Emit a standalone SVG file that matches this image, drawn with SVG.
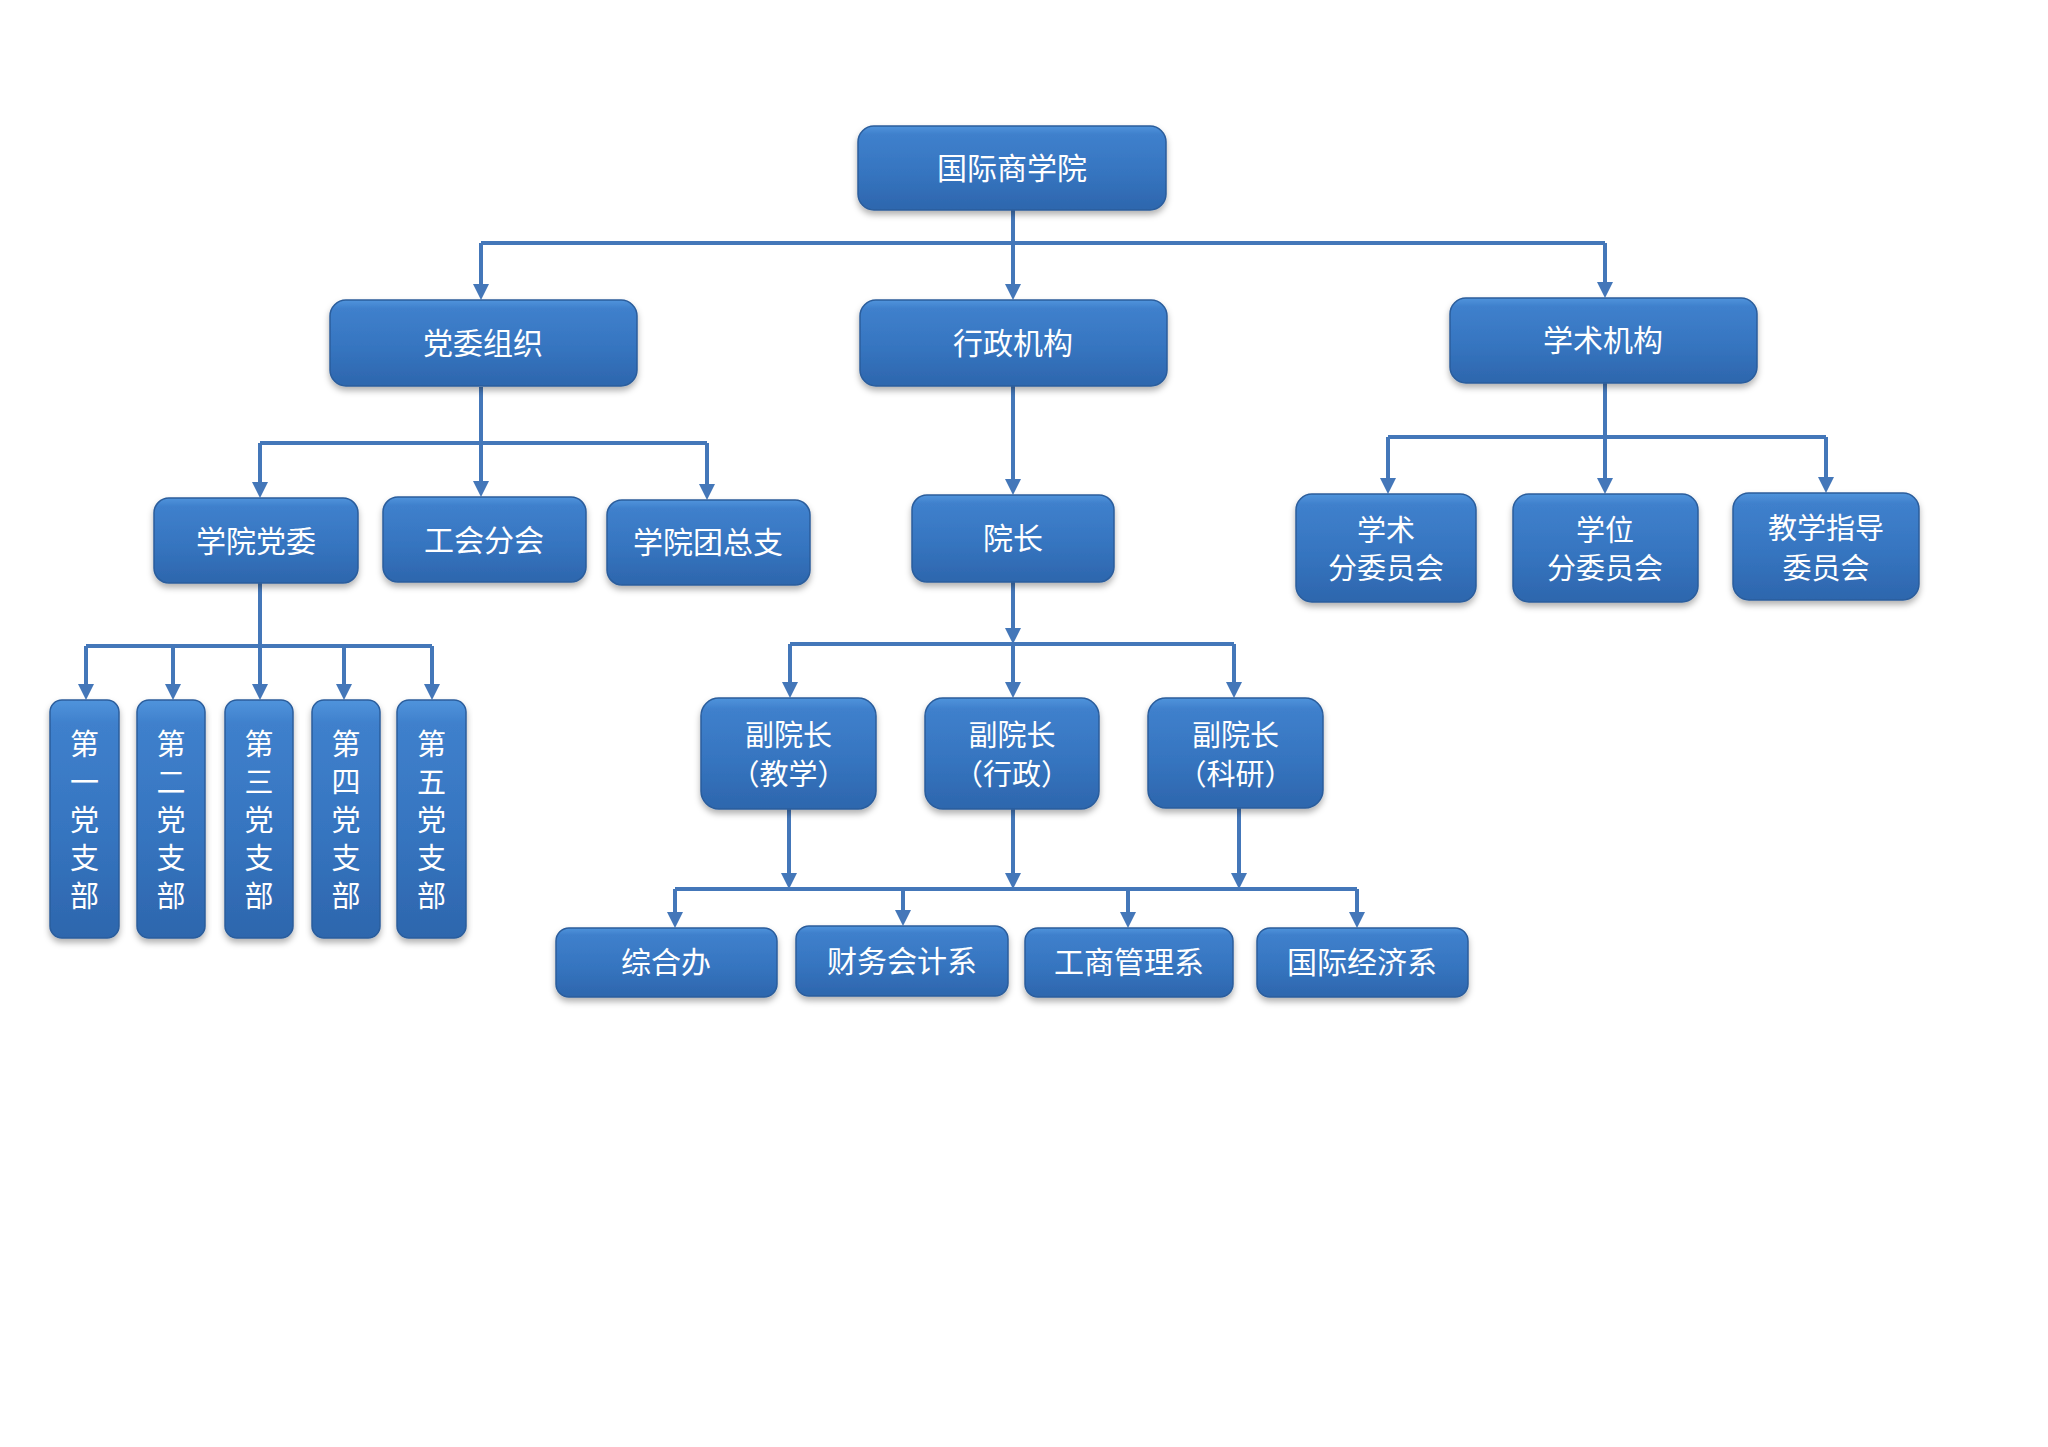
<svg xmlns="http://www.w3.org/2000/svg" width="2048" height="1447" viewBox="0 0 2048 1447">
<defs>
<linearGradient id="g" x1="0" y1="0" x2="0" y2="1">
<stop offset="0" stop-color="#5094dc"/>
<stop offset="0.1" stop-color="#3f80cc"/>
<stop offset="0.55" stop-color="#3675c0"/>
<stop offset="1" stop-color="#2d66ad"/>
</linearGradient>
<filter id="sh" x="-10%" y="-10%" width="120%" height="130%">
<feDropShadow dx="0" dy="4" stdDeviation="3" flood-color="#000" flood-opacity="0.3"/>
</filter>
<marker id="arr" viewBox="0 0 16 16" refX="7" refY="8" markerWidth="16" markerHeight="16" markerUnits="userSpaceOnUse" orient="auto">
<path d="M0,0 L16,8 L0,16 z" fill="#4477b9"/>
</marker>
</defs>
<style>
.box{fill:url(#g);stroke:#2b5d9c;stroke-width:1.5;filter:url(#sh)}
.t{fill:#fff;font-family:"Noto Sans CJK SC","Noto Sans",sans-serif;font-size:30px;text-anchor:middle}
.t2{fill:#fff;font-family:"Noto Sans CJK SC","Noto Sans",sans-serif;font-size:29px;text-anchor:middle}
.ln{fill:none;stroke:#4477b9;stroke-width:4}
.ar{fill:none;stroke:#4477b9;stroke-width:4;marker-end:url(#arr)}
</style>
<rect width="2048" height="1447" fill="#fff"/>
<g id="connectors">
<path class="ln" d="M1013,210 V243 M481,243 H1605"/>
<path class="ar" d="M481,243 V291"/>
<path class="ar" d="M1013,243 V291"/>
<path class="ar" d="M1605,243 V289"/>
<path class="ln" d="M481,387 V443 M260,443 H707"/>
<path class="ar" d="M260,443 V489"/>
<path class="ar" d="M481,443 V488"/>
<path class="ar" d="M707,443 V491"/>
<path class="ln" d="M260,583 V646 M86,646 H432"/>
<path class="ar" d="M86,646 V691"/>
<path class="ar" d="M173,646 V691"/>
<path class="ar" d="M260,646 V691"/>
<path class="ar" d="M344,646 V691"/>
<path class="ar" d="M432,646 V691"/>
<path class="ar" d="M1013,386 V486"/>
<path class="ar" d="M1013,582 V635"/>
<path class="ln" d="M790,644 H1234"/>
<path class="ar" d="M790,644 V689"/>
<path class="ar" d="M1013,644 V689"/>
<path class="ar" d="M1234,644 V689"/>
<path class="ar" d="M789,809 V880"/>
<path class="ar" d="M1013,809 V880"/>
<path class="ar" d="M1239,808 V880"/>
<path class="ln" d="M675,889 H1357"/>
<path class="ar" d="M675,889 V919"/>
<path class="ar" d="M903,889 V917"/>
<path class="ar" d="M1128,889 V919"/>
<path class="ar" d="M1357,889 V919"/>
<path class="ln" d="M1605,383 V437 M1388,437 H1826"/>
<path class="ar" d="M1388,437 V485"/>
<path class="ar" d="M1605,437 V485"/>
<path class="ar" d="M1826,437 V484"/>
</g>
<g id="n-root"><rect class="box" x="858" y="126" width="308" height="84" rx="16"/><text class="t" x="1012" y="179">国际商学院</text></g>
<g id="n-dangwei"><rect class="box" x="330" y="300" width="307" height="86" rx="16"/><text class="t" x="483" y="354">党委组织</text></g>
<g id="n-xingzheng"><rect class="box" x="860" y="300" width="307" height="86" rx="16"/><text class="t" x="1013" y="354">行政机构</text></g>
<g id="n-xueshu"><rect class="box" x="1450" y="298" width="307" height="85" rx="16"/><text class="t" x="1603" y="351">学术机构</text></g>
<g id="n-xydw"><rect class="box" x="154" y="498" width="204" height="85" rx="15"/><text class="t" x="256" y="552">学院党委</text></g>
<g id="n-ghfh"><rect class="box" x="383" y="497" width="203" height="85" rx="15"/><text class="t" x="484" y="551">工会分会</text></g>
<g id="n-xytzz"><rect class="box" x="607" y="500" width="203" height="85" rx="15"/><text class="t" x="708" y="553">学院团总支</text></g>
<g id="n-yz"><rect class="box" x="912" y="495" width="202" height="87" rx="15"/><text class="t" x="1013" y="549">院长</text></g>
<g id="n-xsfwyh"><rect class="box" x="1296" y="494" width="180" height="108" rx="16"/><text class="t2" x="1386" y="541">学术</text><text class="t2" x="1386" y="579">分委员会</text></g>
<g id="n-xwfwyh"><rect class="box" x="1513" y="494" width="185" height="108" rx="16"/><text class="t2" x="1605" y="541">学位</text><text class="t2" x="1605" y="579">分委员会</text></g>
<g id="n-jxzdwyh"><rect class="box" x="1733" y="493" width="186" height="107" rx="16"/><text class="t2" x="1826" y="539">教学指导</text><text class="t2" x="1826" y="579">委员会</text></g>
<g id="n-zb1"><rect class="box" x="50" y="700" width="69" height="238" rx="12"/><text class="t2" x="84.5" y="755">第</text><text class="t2" x="84.5" y="793">一</text><text class="t2" x="84.5" y="831">党</text><text class="t2" x="84.5" y="869">支</text><text class="t2" x="84.5" y="907">部</text></g>
<g id="n-zb2"><rect class="box" x="137" y="700" width="68" height="238" rx="12"/><text class="t2" x="171" y="755">第</text><text class="t2" x="171" y="793">二</text><text class="t2" x="171" y="831">党</text><text class="t2" x="171" y="869">支</text><text class="t2" x="171" y="907">部</text></g>
<g id="n-zb3"><rect class="box" x="225" y="700" width="68" height="238" rx="12"/><text class="t2" x="259" y="755">第</text><text class="t2" x="259" y="793">三</text><text class="t2" x="259" y="831">党</text><text class="t2" x="259" y="869">支</text><text class="t2" x="259" y="907">部</text></g>
<g id="n-zb4"><rect class="box" x="312" y="700" width="68" height="238" rx="12"/><text class="t2" x="346" y="755">第</text><text class="t2" x="346" y="793">四</text><text class="t2" x="346" y="831">党</text><text class="t2" x="346" y="869">支</text><text class="t2" x="346" y="907">部</text></g>
<g id="n-zb5"><rect class="box" x="397" y="700" width="69" height="238" rx="12"/><text class="t2" x="431.5" y="755">第</text><text class="t2" x="431.5" y="793">五</text><text class="t2" x="431.5" y="831">党</text><text class="t2" x="431.5" y="869">支</text><text class="t2" x="431.5" y="907">部</text></g>
<g id="n-fyz1"><rect class="box" x="701" y="698" width="175" height="111" rx="18"/><text class="t2" x="788.5" y="746">副院长</text><text class="t2" x="788.5" y="785">（教学）</text></g>
<g id="n-fyz2"><rect class="box" x="925" y="698" width="174" height="111" rx="18"/><text class="t2" x="1012" y="746">副院长</text><text class="t2" x="1012" y="785">（行政）</text></g>
<g id="n-fyz3"><rect class="box" x="1148" y="698" width="175" height="110" rx="18"/><text class="t2" x="1235.5" y="746">副院长</text><text class="t2" x="1235.5" y="785">（科研）</text></g>
<g id="n-zhb"><rect class="box" x="556" y="928" width="221" height="69" rx="13"/><text class="t" x="666" y="973">综合办</text></g>
<g id="n-cwkjx"><rect class="box" x="796" y="926" width="212" height="70" rx="13"/><text class="t" x="902" y="972">财务会计系</text></g>
<g id="n-gsglx"><rect class="box" x="1025" y="928" width="208" height="69" rx="13"/><text class="t" x="1129" y="973">工商管理系</text></g>
<g id="n-gjjjx"><rect class="box" x="1257" y="928" width="211" height="69" rx="13"/><text class="t" x="1362" y="973">国际经济系</text></g>
</svg>
